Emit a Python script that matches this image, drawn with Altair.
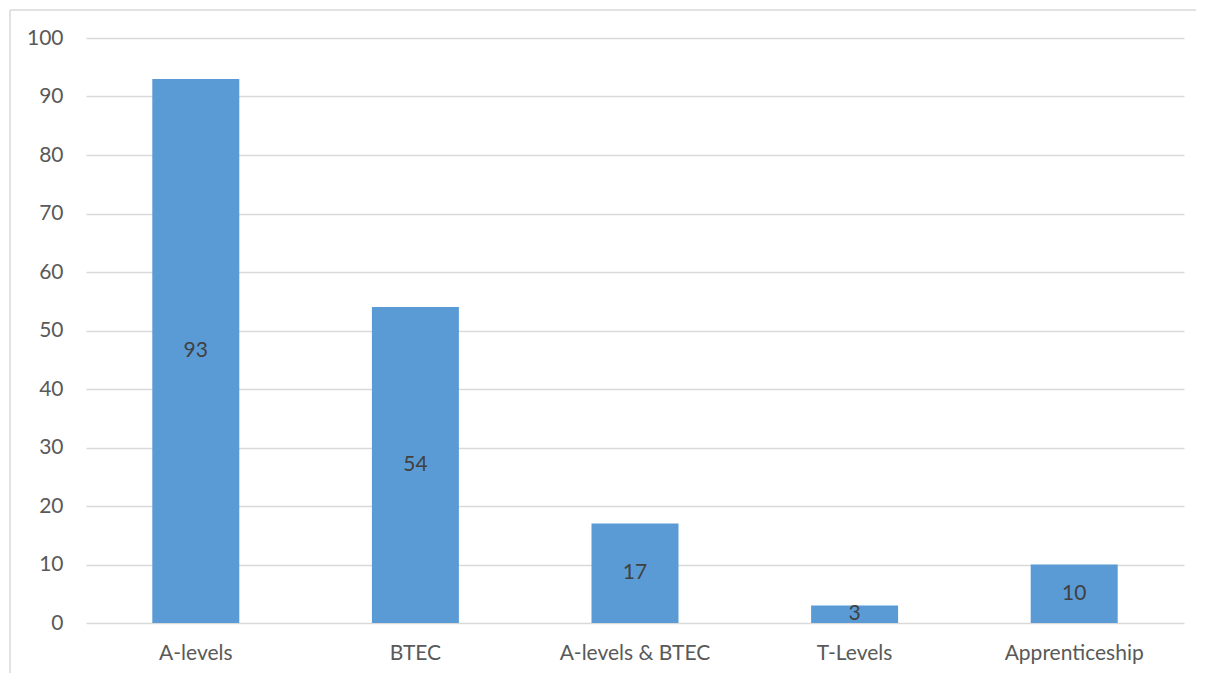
import altair as alt
import pandas as pd

categories = ["A-levels", "BTEC", "A-levels & BTEC", "T-Levels", "Apprenticeship"]
values = [93, 54, 17, 3, 10]

df = pd.DataFrame({"category": categories, "value": values})

FONT = "Lato"
FS = 21

base = alt.Chart(df)
one = alt.Chart(pd.DataFrame({"a": [0]}))

border_top = one.mark_rule(color="#D9D9D9", strokeWidth=1.5).encode(
    x=alt.value(-76), x2=alt.value(1200), y=alt.value(-28)
)
border_left = one.mark_rule(color="#D9D9D9", strokeWidth=1.5).encode(
    x=alt.value(-76), y=alt.value(-28), y2=alt.value(700)
)

bars = base.mark_bar(color="#5B9BD5", width=87).encode(
    x=alt.X("category:N", sort=categories, title=None,
            scale=alt.Scale(paddingInner=0, paddingOuter=0),
            axis=alt.Axis(labelAngle=0, ticks=False, domain=False, grid=False, labelFont=FONT,
                          labelFontSize=FS, labelColor="#595959", labelPadding=19)),
    y=alt.Y("value:Q", title=None,
            scale=alt.Scale(domain=[0, 100]),
            axis=alt.Axis(values=list(range(0, 101, 10)), ticks=False, domain=False,
                          gridColor="#D9D9D9", gridWidth=1.3, labelFont=FONT,
                          labelFontSize=FS, labelColor="#595959", labelPadding=23)),
)

labels = base.transform_calculate(mid="datum.value / 2").mark_text(
    font=FONT, fontSize=FS, color="#404040", baseline="middle", align="center"
).encode(
    x=alt.X("category:N", sort=categories),
    y=alt.Y("mid:Q"),
    text=alt.Text("value:Q"),
)

chart = alt.layer(border_top, border_left, bars, labels).properties(
    width=1098, height=585,
    background="white",
    autosize=alt.AutoSizeParams(type="none"),
    padding={"left": 78, "top": 30, "right": 12, "bottom": 50},
).configure_view(stroke="transparent", strokeWidth=0)

chart.save("out.html", embed_options={"renderer": "svg", "actions": False})
